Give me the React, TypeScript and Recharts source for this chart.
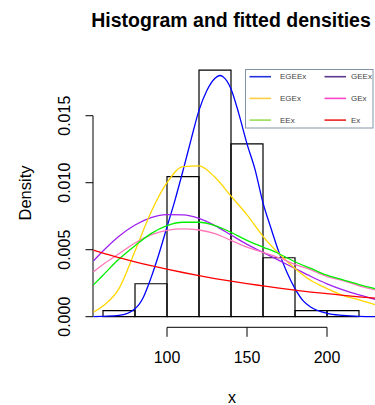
import React from "react";
import { ComposedChart, Line, XAxis, YAxis, ReferenceArea, ReferenceLine } from "recharts";

// histogram bins (density scale)
const binStart = [60, 80, 100, 120, 140, 160, 180, 200];
const binEnd = [80, 100, 120, 140, 160, 180, 200, 220];
const binDensity = [0.00045, 0.00246, 0.01045, 0.0184, 0.0129, 0.0044, 0.00045, 0.00045];

// fitted densities
const gridX = [54, 60, 70, 80, 90, 100, 110, 120, 130, 140, 150, 160, 170, 180, 190, 200, 210, 220, 230];
const egex = [0.00033, 0.0008, 0.0021, 0.0049, 0.0078, 0.01, 0.0112, 0.01125, 0.0104, 0.009, 0.0076, 0.006, 0.0047, 0.0036, 0.0027, 0.0021, 0.0016, 0.00125, 0.0009];
const geex = [0.00416, 0.0049, 0.006, 0.00684, 0.0074, 0.00762, 0.0076, 0.00734, 0.0068, 0.0061, 0.0054, 0.0048, 0.0042, 0.0036, 0.003, 0.00245, 0.002, 0.00163, 0.0013];
const eex = [0.00237, 0.0031, 0.0043, 0.0053, 0.0062, 0.0068, 0.00705, 0.00705, 0.0068, 0.0063, 0.0057, 0.0052, 0.0047, 0.0041, 0.0036, 0.0031, 0.00275, 0.0024, 0.0021];
const gex = [0.00336, 0.0039, 0.0047, 0.0055, 0.0061, 0.00645, 0.00655, 0.00647, 0.0062, 0.0057, 0.0052, 0.0048, 0.0044, 0.0039, 0.0035, 0.003, 0.0027, 0.0023, 0.002];
const ex = [0.00497, 0.00474, 0.00441, 0.0041, 0.00381, 0.00355, 0.0033, 0.00307, 0.00285, 0.00265, 0.00247, 0.0023, 0.00213, 0.00198, 0.00184, 0.00172, 0.0016, 0.00148, 0.00138];

// EGEEx is narrow, so it gets a finer grid
const egeexX = [54, 60, 70, 80, 85, 90, 95, 100, 105, 110, 115, 120, 125, 130, 133, 135, 140, 145, 150, 155, 160, 165, 170, 175, 180, 185, 190, 200, 210, 220, 230];
const egeex = [0, 0.00003, 0.0001, 0.0006, 0.0014, 0.0029, 0.0047, 0.0067, 0.0087, 0.0109, 0.0132, 0.0154, 0.0169, 0.0178, 0.018, 0.0179, 0.017, 0.0151, 0.0129, 0.011, 0.0085, 0.0066, 0.0048, 0.0033, 0.0021, 0.0012, 0.0007, 0.00025, 0.0001, 0.00003, 0.00001];

const seriesNames = ["EGEEx", "GEEx", "EGEx", "GEx", "EEx", "Ex"];
const curveColors = ["#0000ff", "#a020f0", "#ffd700", "#ff77bb", "#00ee00", "#ff0000"];
const legendColors = ["#2233dd", "#5b3a8c", "#ffcc44", "#ff44cc", "#99dd55", "#ee2222"];

const xTicks = [100, 150, 200];
const yTicks = [0, 0.005, 0.01, 0.015];

const allX = Array.from(new Set([...gridX, ...egeexX])).sort((a, b) => a - b);
const rows = allX.map((x) => {
  const i = gridX.indexOf(x);
  const j = egeexX.indexOf(x);
  return {
    x,
    EGEEx: j >= 0 ? egeex[j] : null,
    GEEx: i >= 0 ? geex[i] : null,
    EGEx: i >= 0 ? egex[i] : null,
    GEx: i >= 0 ? gex[i] : null,
    EEx: i >= 0 ? eex[i] : null,
    Ex: i >= 0 ? ex[i] : null,
  };
});

const FONT = "'Liberation Sans', Arial, sans-serif";
const X_MIN = 53.75;
const X_MAX = 230;
const Y_MIN = -0.00079;
const Y_MAX = 0.02;
const PLOT_BOTTOM = 327.3;

const XTick = (props: any) => {
  const { x, payload } = props;
  return (
    <g>
      <line x1={x} x2={x} y1={PLOT_BOTTOM} y2={PLOT_BOTTOM + 9.5} stroke="#000" />
      <text x={x} y={357} textAnchor="middle" dominantBaseline="central" fontSize={16} fontFamily={FONT} fill="#000">
        {payload.value}
      </text>
    </g>
  );
};

const YTick = (props: any) => {
  const { y, payload } = props;
  return (
    <g>
      <line x1={85.5} x2={93} y1={y} y2={y} stroke="#000" />
      <text
        x={65}
        y={y}
        transform={`rotate(-90, 65, ${y})`}
        textAnchor="middle"
        dominantBaseline="central"
        fontSize={16}
        fontFamily={FONT}
        fill="#000"
      >
        {Number(payload.value).toFixed(3)}
      </text>
    </g>
  );
};

export default function App() {
  const order = [0, 2, 4, 1, 3, 5];
  return (
    <div style={{ position: "absolute", left: 0, top: 0, width: 375, height: 405, background: "#fff" }}>
      <ComposedChart
        width={375}
        height={405}
        data={rows}
        margin={{ top: 48.7, right: 0, left: 0, bottom: 405 - PLOT_BOTTOM - 30 }}
      >
        <XAxis
          dataKey="x"
          type="number"
          domain={[X_MIN, X_MAX]}
          ticks={xTicks}
          axisLine={false}
          tickLine={false}
          height={30}
          tick={<XTick />}
          allowDataOverflow
        />
        <YAxis
          type="number"
          domain={[Y_MIN, Y_MAX]}
          ticks={yTicks}
          axisLine={false}
          tickLine={false}
          width={93}
          tick={<YTick />}
          allowDataOverflow
        />
        {binStart.map((b, i) => (
          <ReferenceArea
            key={b}
            x1={b}
            x2={binEnd[i]}
            y1={0}
            y2={binDensity[i]}
            fill="none"
            stroke="#000"
            strokeWidth={1.2}
            ifOverflow="visible"
          />
        ))}
        <ReferenceLine segment={[{ x: X_MIN, y: 0 }, { x: X_MIN, y: 0.015 }]} stroke="#000" ifOverflow="visible" />
        <ReferenceLine segment={[{ x: 100, y: Y_MIN }, { x: 200, y: Y_MIN }]} stroke="#000" ifOverflow="visible" />
        {seriesNames.map((name, i) => (
          <Line
            key={name}
            dataKey={name}
            type="monotone"
            stroke={curveColors[i]}
            strokeWidth={1.3}
            dot={false}
            connectNulls
            isAnimationActive={false}
          />
        ))}
      </ComposedChart>
      <svg width={375} height={405} style={{ position: "absolute", left: 0, top: 0, pointerEvents: "none" }}>
        <text x={231} y={20} textAnchor="middle" dominantBaseline="central" fontSize={19.5} fontWeight="bold" fontFamily={FONT}>
          Histogram and fitted densities
        </text>
        <text x={232} y={397} textAnchor="middle" dominantBaseline="central" fontSize={16} fontFamily={FONT}>
          x
        </text>
        <text
          x={24.5}
          y={193}
          transform="rotate(-90, 24.5, 193)"
          textAnchor="middle"
          dominantBaseline="central"
          fontSize={16.5}
          fontFamily={FONT}
        >
          Density
        </text>
        <rect x={245.5} y={69.5} width={127.5} height={58.5} fill="#fff" stroke="#8494a8" strokeWidth={1} />
        {order.map((s, k) => {
          const col = k < 3 ? 0 : 1;
          const row = k % 3;
          const lx = col === 0 ? 249.5 : 324.5;
          const tx = col === 0 ? 280 : 351;
          const ly = 76.7 + row * 21.7;
          return (
            <g key={seriesNames[s]}>
              <line x1={lx} x2={lx + 21.5} y1={ly} y2={ly} stroke={legendColors[s]} strokeWidth={1.6} />
              <text x={tx} y={ly} dominantBaseline="central" fontSize={8} fontFamily={FONT} fill="#444">
                {seriesNames[s]}
              </text>
            </g>
          );
        })}
      </svg>
    </div>
  );
}
